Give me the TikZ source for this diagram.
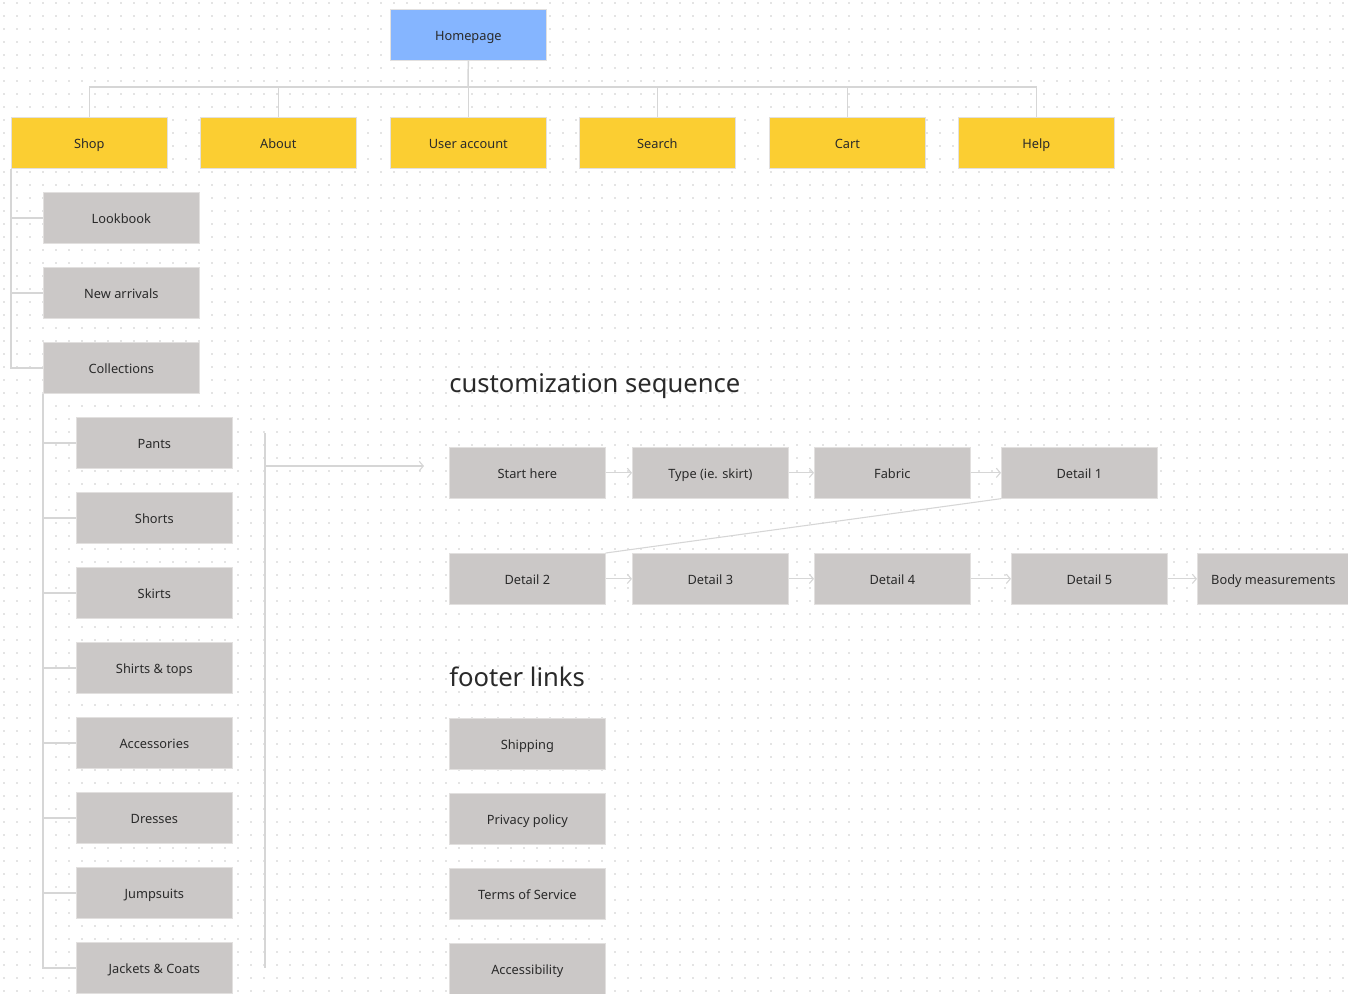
\documentclass[tikz,border=0pt]{standalone}
\usepackage{fontspec}
\setmainfont{Noto Sans}
\usetikzlibrary{arrows.meta}
\definecolor{bluebox}{HTML}{85B5FF}
\definecolor{yelbox}{HTML}{FBCE32}
\definecolor{graybox}{HTML}{CBC8C7}
\definecolor{txt}{HTML}{2A2A2A}
\definecolor{conn}{HTML}{D6D6D6}
\definecolor{dotc}{HTML}{C9C9C9}
\definecolor{edge}{HTML}{E2E0DF}
\tikzset{
  box/.style={draw=edge, line width=0.5pt, minimum width=117pt, minimum height=38.25pt,
    inner sep=0pt, anchor=north west, font=\fontsize{9.6}{11}\selectfont, text=txt,
    text height=1.7ex, text depth=0.25ex},
  bluen/.style={box, fill=bluebox},
  yeln/.style={box, fill=yelbox},
  grayn/.style={box, fill=graybox},
  link/.style={draw=conn, line width=1.1pt},
  flow/.style={draw=conn, line width=0.8pt, -{Straight Barb[length=3pt,width=7pt]}},
  heading/.style={anchor=west, inner sep=0pt, font=\fontsize{19.2}{22}\selectfont, text=txt},
}
\begin{document}
\begin{tikzpicture}[x=0.75pt,y=-0.75pt]
\useasboundingbox (0,0) rectangle (1348,993);
\fill[white] (0,0) rectangle (1348,993);
\begin{scope}
\clip (0,0) rectangle (1348,993);
% dot grid
\foreach \yy in {3,16,...,993}{
  \draw[dotc, line width=1.3pt, line cap=round, dash pattern=on 0pt off 9.75pt] (4,\yy) -- (1348,\yy);
}
% nodes
\node[bluen] (home) at (390,9) {Homepage};
\node[yeln] (shop) at (11,117) {Shop};
\node[yeln] (about) at (200,117) {About};
\node[yeln] (user) at (390,117) {User account};
\node[yeln] (search) at (579,117) {Search};
\node[yeln] (cart) at (769,117) {Cart};
\node[yeln] (help) at (958,117) {Help};

\node[grayn] (look) at (43,192) {Lookbook};
\node[grayn] (newarr) at (43,267) {New arrivals};
\node[grayn] (coll) at (43,342) {Collections};

\node[grayn] (pants) at (76,417) {Pants};
\node[grayn] (shorts) at (76,492) {Shorts};
\node[grayn] (skirts) at (76,567) {Skirts};
\node[grayn] (shirts) at (76,642) {Shirts \& tops};
\node[grayn] (acc) at (76,717) {Accessories};
\node[grayn] (dress) at (76,792) {Dresses};
\node[grayn] (jump) at (76,867) {Jumpsuits};
\node[grayn] (jack) at (76,942) {Jackets \& Coats};

\node[heading] (t1) at (449,386) {customization sequence};
\node[grayn] (start) at (449,447) {Start here};
\node[grayn] (type) at (632,447) {Type (ie. skirt)};
\node[grayn] (fabric) at (814,447) {Fabric};
\node[grayn] (d1) at (1001,447) {Detail 1};
\node[grayn] (d2) at (449,553) {Detail 2};
\node[grayn] (d3) at (632,553) {Detail 3};
\node[grayn] (d4) at (814,553) {Detail 4};
\node[grayn] (d5) at (1011,553) {Detail 5};
\node[grayn, minimum width=114pt] (body) at (1197,553) {Body measurements};

\node[heading] (t2) at (449,677) {footer links};
\node[grayn] (ship) at (449,718) {Shipping};
\node[grayn] (priv) at (449,793) {Privacy policy};
\node[grayn] (terms) at (449,868) {Terms of Service};
\node[grayn] (access) at (449,943) {Accessibility};

% connectors top
\coordinate (bus) at (468,87);
\draw[link] (home.south) -- (bus);
\draw[link] (shop.north) |- (bus) -| (help.north);
\foreach \n in {about,user,search,cart}{\draw[link] (\n.north) -- (\n.north |- bus);}

% shop tree
\draw[link] (shop.south west) |- (coll.west);
\foreach \n in {look,newarr}{\draw[link] (shop.south west |- \n.west) -- (\n.west);}
% collections tree
\draw[link] (coll.south west) |- (jack.west);
\foreach \n in {pants,shorts,skirts,shirts,acc,dress,jump}{\draw[link] (coll.south west |- \n.west) -- (\n.west);}

% bracket and arrow
\coordinate (brtop) at (265,433);
\coordinate (brbot) at (265,968);
\coordinate (arrs) at (265,466);
\coordinate (arre) at (424,466);
\draw[link] (brtop) -- (brbot);
\draw[flow] (arrs) -- (arre);

% sequence
\draw[flow] (start.east) -- (type.west);
\draw[flow] (type.east) -- (fabric.west);
\draw[flow] (fabric.east) -- (d1.west);
\draw[draw=conn, line width=0.8pt] (d1.south west) -- (d2.north east);
\draw[flow] (d2.east) -- (d3.west);
\draw[flow] (d3.east) -- (d4.west);
\draw[flow] (d4.east) -- (d5.west);
\draw[flow] (d5.east) -- (body.west);
\end{scope}
\end{tikzpicture}
\end{document}
